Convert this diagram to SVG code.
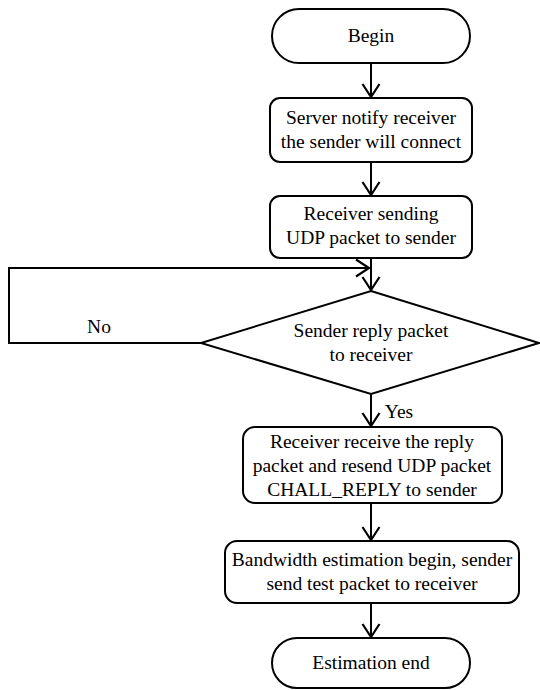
<svg xmlns="http://www.w3.org/2000/svg" width="540" height="690" viewBox="0 0 540 690">
<defs>
<marker id="v" viewBox="0 0 20 20" refX="18" refY="10" markerWidth="20" markerHeight="20" markerUnits="userSpaceOnUse" orient="auto">
<path d="M5,1.5 L18,10 L5,18.5" fill="none" stroke="#000" stroke-width="2.2"/>
</marker>
<style>
.s{fill:#fff;stroke:#000;stroke-width:2}
.c{fill:none;stroke:#000;stroke-width:2}
.t{font-family:'Liberation Serif','Times New Roman',serif;font-size:19.5px;fill:#000;text-anchor:middle}
</style>
</defs>
<rect width="540" height="690" fill="#fff"/>
<g id="connectors">
<line class="c" x1="371" y1="63" x2="371" y2="97" marker-end="url(#v)"/>
<line class="c" x1="371" y1="162" x2="371" y2="195" marker-end="url(#v)"/>
<line class="c" x1="371" y1="258" x2="371" y2="290" marker-end="url(#v)"/>
<polyline class="c" points="201,343 9,343 9,268 369,268" marker-end="url(#v)"/>
<text class="t" x="99" y="333">No</text>
<line class="c" x1="371" y1="394" x2="371" y2="426" marker-end="url(#v)"/>
<text class="t" x="399" y="418">Yes</text>
<line class="c" x1="371" y1="503" x2="371" y2="540" marker-end="url(#v)"/>
<line class="c" x1="371" y1="603" x2="371" y2="637" marker-end="url(#v)"/>
</g>
<g id="begin">
<rect class="s" x="272" y="9" width="198" height="54" rx="27"/>
<text class="t" x="371" y="42">Begin</text>
</g>
<g id="notify">
<rect class="s" x="270" y="98" width="202" height="64" rx="10"/>
<text class="t" x="371" y="124">Server notify receiver</text>
<text class="t" x="371" y="148">the sender will connect</text>
</g>
<g id="sending">
<rect class="s" x="270" y="196" width="202" height="62" rx="10"/>
<text class="t" x="371" y="220">Receiver sending</text>
<text class="t" x="371" y="244">UDP packet to sender</text>
</g>
<g id="decision">
<polygon class="s" points="371,291 539,343 371,394 201,343"/>
<text class="t" x="371" y="337">Sender reply packet</text>
<text class="t" x="371" y="361">to receiver</text>
</g>
<g id="resend">
<rect class="s" x="243" y="427" width="259" height="76" rx="12"/>
<text class="t" x="372" y="448">Receiver receive the reply</text>
<text class="t" x="372" y="472">packet and resend UDP packet</text>
<text class="t" x="372" y="496">CHALL_REPLY to sender</text>
</g>
<g id="estimate">
<rect class="s" x="225" y="541" width="294" height="62" rx="12"/>
<text class="t" x="372" y="566">Bandwidth estimation begin, sender</text>
<text class="t" x="372" y="590">send test packet to receiver</text>
</g>
<g id="end">
<rect class="s" x="272" y="638" width="198" height="50" rx="25"/>
<text class="t" x="371" y="669">Estimation end</text>
</g>
</svg>
